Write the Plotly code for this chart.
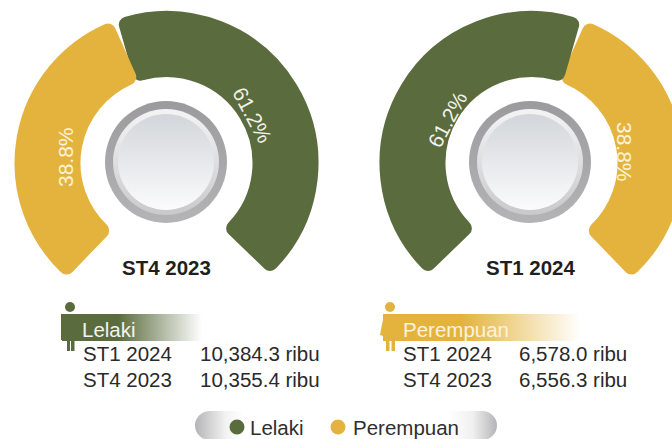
import base64
import plotly.graph_objects as go

# ---- data ----
series = ["Lelaki", "Perempuan"]
share_labels = ["61.2%", "38.8%"]
# drawn arc sweeps (degrees); the infographic is not strictly proportional
arc_male = 150
arc_female = 112
arc_gap_bottom = 90
arc_gap_top = 8
periods_title = ["ST4 2023", "ST1 2024"]
rows = ["ST1 2024", "ST4 2023"]
male_values = ["10,384.3 ribu", "10,355.4 ribu"]
female_values = ["6,578.0 ribu", "6,556.3 ribu"]

GREEN = "#5a6b3d"
GOLD = "#e4b33e"
INK = "#2a2a2a"
FONT = "Liberation Sans, Arial, sans-serif"
W, H = 690, 439
R_OUT, R_IN, STROKE = 152, 86, 16


def X(p):
    return p / W


def Y(p):
    return 1 - p / H


def svg_uri(svg):
    return "data:image/svg+xml;base64," + base64.b64encode(svg.encode()).decode()


def bar_svg(color):
    return svg_uri(
        f'<svg xmlns="http://www.w3.org/2000/svg" width="200" height="27"><defs><linearGradient id="g">'
        f'<stop offset="0.4" stop-color="{color}"/><stop offset="1" stop-color="{color}" stop-opacity="0"/>'
        f'</linearGradient></defs><rect width="200" height="27" fill="url(#g)"/></svg>')


DISC = svg_uri(
    '<svg xmlns="http://www.w3.org/2000/svg" width="124" height="124"><defs>'
    '<linearGradient id="a" x1="0" y1="0" x2="0" y2="1"><stop offset="0" stop-color="#9b9b9e"/><stop offset="1" stop-color="#b4b4b6"/></linearGradient>'
    '<linearGradient id="b" x1="0" y1="0" x2="0" y2="1"><stop offset="0" stop-color="#f4f4f5"/><stop offset="1" stop-color="#c9c9cb"/></linearGradient>'
    '<linearGradient id="c" x1="0" y1="0" x2="0" y2="1"><stop offset="0" stop-color="#d2d6da"/><stop offset="1" stop-color="#fbfbfc"/></linearGradient>'
    '</defs><circle cx="62" cy="62" r="61" fill="url(#a)"/><circle cx="62" cy="62" r="53" fill="url(#b)"/>'
    '<circle cx="62" cy="62" r="48" fill="url(#c)"/></svg>')

PILL = svg_uri(
    '<svg xmlns="http://www.w3.org/2000/svg" width="302" height="30"><defs><linearGradient id="p">'
    '<stop offset="0" stop-color="#b4b4b6"/><stop offset="0.1" stop-color="#f2f2f2"/><stop offset="0.16" stop-color="#ffffff"/>'
    '<stop offset="0.84" stop-color="#ffffff"/><stop offset="0.92" stop-color="#f0f0f0"/><stop offset="1" stop-color="#b4b4b6"/>'
    '</linearGradient></defs><rect width="302" height="30" rx="15" fill="url(#p)"/></svg>')

fig = go.Figure()


def donut(cx, cy, values, colors, rotation):
    r = R_OUT - STROKE / 2
    fig.add_trace(go.Pie(
        values=values, sort=False, direction="clockwise", rotation=rotation,
        hole=(R_IN + STROKE / 2) / r, textinfo="none", hoverinfo="skip", showlegend=False,
        marker=dict(colors=colors, line=dict(color=colors, width=[STROKE if c != "rgba(0,0,0,0)" else 0 for c in colors])),
        domain=dict(x=[X(cx - r), X(cx + r)], y=[Y(cy + r), Y(cy - r)]),
    ))


NONE = "rgba(0,0,0,0)"
donut(166.5, 163, [arc_male, arc_gap_bottom, arc_female, arc_gap_top], [GREEN, NONE, GOLD, NONE], 344)
donut(531.5, 163, [arc_female, arc_gap_bottom, arc_male, arc_gap_top], [GOLD, NONE, GREEN, NONE], 24)

images = []


def img(src, x0, y0, w, h):
    images.append(dict(source=src, xref="paper", yref="paper", x=X(x0), y=Y(y0), sizex=w / W, sizey=h / H,
                       xanchor="left", yanchor="top", sizing="stretch", layer="below"))


img(DISC, 166 - 62, 162 - 62, 124, 124)
img(DISC, 530 - 62, 162 - 62, 124, 124)
img(PILL, 195, 411, 302, 29)
img(bar_svg(GREEN), 62, 314, 140, 27)
img(bar_svg(GOLD), 383, 314, 197, 27)

shapes = []


def circle(cx, cy, r, color):
    shapes.append(dict(type="circle", xref="paper", yref="paper", x0=X(cx - r), x1=X(cx + r), y0=Y(cy + r), y1=Y(cy - r),
                       fillcolor=color, line_width=0))


def rect(x0, y0, x1, y1, color):
    shapes.append(dict(type="rect", xref="paper", yref="paper", x0=X(x0), x1=X(x1), y0=Y(y1), y1=Y(y0),
                       fillcolor=color, line_width=0))


# male figure
circle(70, 307, 5, GREEN)
rect(61, 314, 65, 340, GREEN)
rect(67, 338, 70, 351, GREEN)
rect(71, 338, 74.5, 351, GREEN)
# female figure
circle(390, 307, 5, GOLD)
shapes.append(dict(type="path", xref="paper", yref="paper",
                   path=f"M {X(384)},{Y(314)} L {X(380)},{Y(335)} L {X(396)},{Y(340)} L {X(396)},{Y(314)} Z",
                   fillcolor=GOLD, line_width=0))
rect(386, 338, 389.5, 351, GOLD)
rect(391.5, 338, 395, 351, GOLD)
# legend dots
circle(237, 427, 7.5, GREEN)
circle(338, 427, 7.5, GOLD)

ann = []


def text(x, y, s, size, color=INK, anchor="left", bold=False, angle=0):
    ann.append(dict(x=X(x), y=Y(y), xref="paper", yref="paper", text=f"<b>{s}</b>" if bold else s, showarrow=False,
                    xanchor=anchor, yanchor="middle", textangle=angle, font=dict(family=FONT, size=size, color=color)))


text(253, 115, share_labels[0], 21, "#f2f2ea", "center", angle=62)
text(65, 157, share_labels[1], 21, "#fbf3dc", "center", angle=-90)
text(447, 119, share_labels[0], 21, "#f2f2ea", "center", angle=-62)
text(625, 152, share_labels[1], 21, "#fbf3dc", "center", angle=90)
text(166.5, 267, periods_title[0], 20.5, "#1f1f1f", "center", bold=True)
text(530, 267, periods_title[1], 20.5, "#1f1f1f", "center", bold=True)

text(80, 329, series[0], 20.5, "#f4f4ee")
text(401, 329, series[1], 20.5, "#fbf3dc")
for i, row in enumerate(rows):
    y = 353.5 + 26 * i
    text(81, y, row, 20.5)
    text(198, y, male_values[i], 20.5)
    text(401, y, row, 20.5)
    text(517, y, female_values[i], 20.5)
text(248, 427, series[0], 20.5, "#2f2f2f")
text(351, 427, series[1], 20.5, "#2f2f2f")

fig.update_layout(width=W, height=H, autosize=False, margin=dict(l=0, r=0, t=0, b=0),
                  paper_bgcolor="white", plot_bgcolor="white", images=images, shapes=shapes, annotations=ann)

post = """
document.documentElement.style.overflow='hidden';
document.body.style.margin='0';document.body.style.overflow='hidden';
document.querySelectorAll('.slice path').forEach(function(p){p.style.strokeLinejoin='round';});
"""
fig.write_html("out.html", config={"displayModeBar": False, "responsive": False}, post_script=post)
